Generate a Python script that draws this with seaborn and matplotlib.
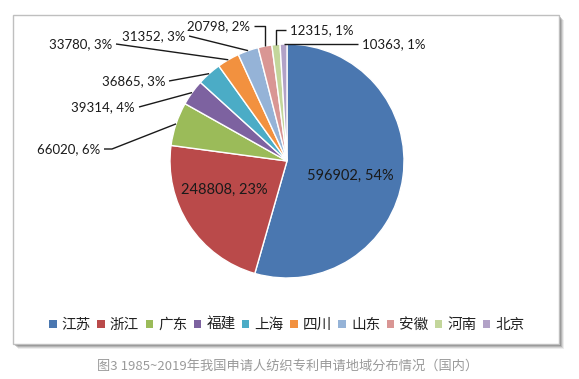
import numpy as np
import matplotlib
matplotlib.use("Agg")
import matplotlib.pyplot as plt
import seaborn as sns
from matplotlib.patches import Rectangle, Patch

# ---- data ----
regions = ["江苏", "浙江", "广东", "福建", "上海", "四川", "山东", "安徽", "河南", "北京"]
counts = [596902, 248808, 66020, 39314, 36865, 33780, 31352, 20798, 12315, 10363]
colors_hex = ["#4A77B0", "#BA4A4A", "#9BBB59", "#7D62A0", "#4BACC6",
              "#F2913F", "#95B3D7", "#D99694", "#C3D69B", "#B2A2C7"]
caption = "图3 1985~2019年我国申请人纺织专利申请地域分布情况（国内）"

sns.set_theme(style="white")
plt.rcParams['font.family'] = ['Noto Sans CJK SC', 'DejaVu Sans']
palette = sns.color_palette(colors_hex)

W, H = 579, 379
fig = plt.figure(figsize=(W / 100, H / 100), dpi=100)
fig.patch.set_facecolor("white")
ax = fig.add_axes([0, 0, 1, 1])

def Y(py):
    return H - py

# frame with shadow
for i, a in enumerate([0.10, 0.16, 0.24, 0.35]):
    off = 5 - i
    ax.add_patch(Rectangle((13 + off, Y(344) - off), 546, 329, facecolor="#555555",
                           edgecolor="none", alpha=a, zorder=0))
ax.add_patch(Rectangle((13, Y(344)), 546, 329, facecolor="white",
                       edgecolor="#BFBFBF", linewidth=1.0, zorder=1))

cx, cy, R = 287, Y(161), 117
wedges, _ = ax.pie(counts, colors=palette, startangle=90, counterclock=False,
                   center=(cx, cy), radius=R,
                   wedgeprops=dict(edgecolor="white", linewidth=1.0, zorder=2))
for w in wedges:
    w.set_zorder(2)

total = float(sum(counts))
labels = [f"{c}, {round(100 * c / total):.0f}%" for c in counts]

num_font = "Lato"
# inside labels
inside = {0: (350, 176), 1: (224, 190)}
for i, (px, py) in inside.items():
    ax.text(px, Y(py), labels[i], ha="center", va="center", fontsize=10.5,
            family=num_font, color="#1a1a1a", zorder=5)

# outside labels: (text x, text y, ha, style)
outside = {
    2: (100, 149, "right", "bend"),
    3: (135, 107, "right", "straight"),
    4: (165, 81, "right", "straight"),
    5: (112, 44, "right", "straight"),
    6: (185, 36, "right", "straight"),
    7: (250, 26, "right", "elbow"),
    8: (290, 30, "left", "elbow"),
    9: (362, 44, "left", "elbow"),
}
for i, (px, py, ha, style) in outside.items():
    w = wedges[i]
    mid = np.deg2rad((w.theta1 + w.theta2) / 2)
    ex, ey = cx + R * np.cos(mid), cy + R * np.sin(mid)
    ax.text(px, Y(py), labels[i], ha=ha, va="center", fontsize=9.5,
            family=num_font, color="#1a1a1a", zorder=5)
    sx = px + 4 if ha == "right" else px - 4
    sy = Y(py)
    if style == "straight":
        xs, ys = [sx, ex], [sy, ey]
    elif style == "bend":
        xs, ys = [sx, sx + 8, ex], [sy, sy, ey]
    else:
        xs, ys = [sx, ex, ex], [sy, sy, ey]
    ax.plot(xs, ys, color="#1a1a1a", linewidth=1.0, zorder=4,
            solid_capstyle="butt")

handles = [Patch(facecolor=palette[i], edgecolor="none", label=regions[i])
           for i in range(len(regions))]
leg = ax.legend(handles=handles, ncol=len(regions), loc="center",
                bbox_to_anchor=(287 / W, Y(325) / H), frameon=False,
                prop=dict(family=['Noto Sans CJK SC', 'DejaVu Sans'], size=10.5, weight='light'),
                handlelength=0.5, handleheight=0.5,
                handletextpad=0.35, columnspacing=0.45, borderaxespad=0)
for t in leg.get_texts():
    t.set_color("#222222")

ax.text(288, Y(366), caption, ha="center", va="center", fontsize=9.5,
        color="#9a9a9a", zorder=5)

ax.set_xlim(0, W)
ax.set_ylim(0, H)
ax.set_aspect("equal")
ax.axis("off")
fig.savefig("out.png", dpi=100, facecolor="white")
